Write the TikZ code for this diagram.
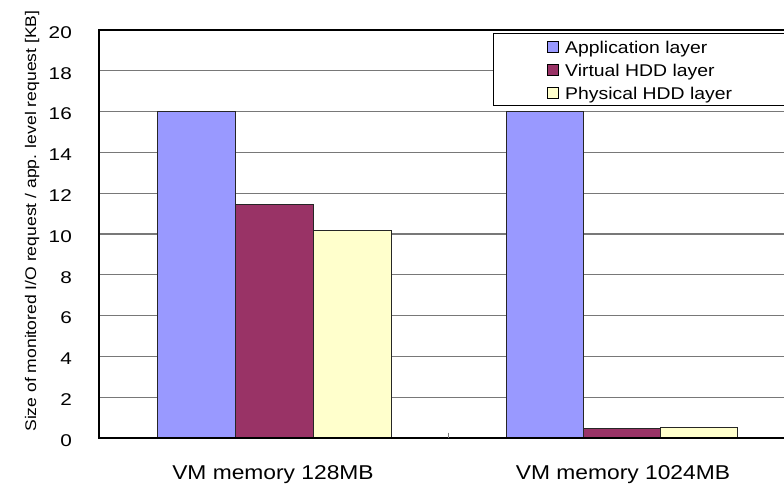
\documentclass[tikz,border=0pt]{standalone}
\usepackage{fontspec}
\setmainfont{Liberation Sans}[FakeStretch=1.14]
\newfontfamily\tickfont{Liberation Sans}[FakeStretch=1.22]
\definecolor{appc}{RGB}{153,153,255}
\definecolor{vhdd}{RGB}{153,51,102}
\definecolor{phdd}{RGB}{255,255,204}
\definecolor{gridc}{RGB}{120,120,120}
\tikzset{
  gridline/.style={draw=gridc, line width=1.3pt},
  bar/.style={draw=black!85, line width=0.9pt},
  ticklab/.style={font=\tickfont\fontsize{17}{19}\selectfont, inner sep=0pt, anchor=east},
  catlab/.style={font=\fontsize{20}{22}\selectfont, inner sep=0pt, anchor=base},
  leglab/.style={font=\fontsize{17}{19}\selectfont, inner sep=0pt, anchor=base west},
  legkey/.style={draw=black, line width=0.8pt},
}
\begin{document}
\begin{tikzpicture}[x=1pt,y=-1pt]
\useasboundingbox (0,0) rectangle (784,485);
% gridlines and tick labels
\foreach \k in {1,...,9} {
  \pgfmathsetmacro\yy{438-40.8*\k}
  \draw[gridline] (99,\yy) -- (800,\yy);
}
\foreach \k in {0,...,10} {
  \pgfmathsetmacro\yy{438-40.8*\k}
  \pgfmathtruncatemacro\lab{2*\k}
  \node[ticklab] (t\k) at (72,\yy+2.5) {\lab};
}
% bars group 1
\filldraw[bar, fill=appc] (157,438) rectangle (235,111.6);
\filldraw[bar, fill=vhdd] (235,438) rectangle (313,204.4);
\filldraw[bar, fill=phdd] (313,438) rectangle (391,230.5);
% bars group 2
\filldraw[bar, fill=appc] (506,438) rectangle (583,111.6);
\filldraw[bar, fill=vhdd] (583,438) rectangle (660,428.7);
\filldraw[bar, fill=phdd] (660,438) rectangle (737,427.3);
% axes and frame
\draw[line width=1.6pt] (98,30) -- (800,30);
\draw[line width=2pt] (99,29.2) -- (99,438.8);
\draw[line width=2pt] (98,438) -- (800,438);
\draw[gridc, line width=0.8pt] (448,432.5) -- (448,438);
% y axis label
\node[rotate=90, anchor=base, inner sep=0pt, font=\fontsize{15.4}{17}\selectfont] (ylab) at (36,221) {Size of monitored I/O request / app. level request [KB]};
% category labels
\node[catlab] (c1) at (273,479) {VM memory 128MB};
\node[catlab] (c2) at (623,479) {VM memory 1024MB};
% legend
\draw[fill=white, line width=1pt] (493,33) rectangle (800,105);
\draw[legkey, fill=appc] (547,41.5) rectangle (558,52.5);
\draw[legkey, fill=vhdd] (547,64.5) rectangle (558,75.5);
\draw[legkey, fill=phdd] (547,87.5) rectangle (558,98.5);
\node[leglab] (l1) at (565,53) {Application layer};
\node[leglab] (l2) at (565,76) {Virtual HDD layer};
\node[leglab] (l3) at (565,99) {Physical HDD layer};
\end{tikzpicture}
\end{document}
